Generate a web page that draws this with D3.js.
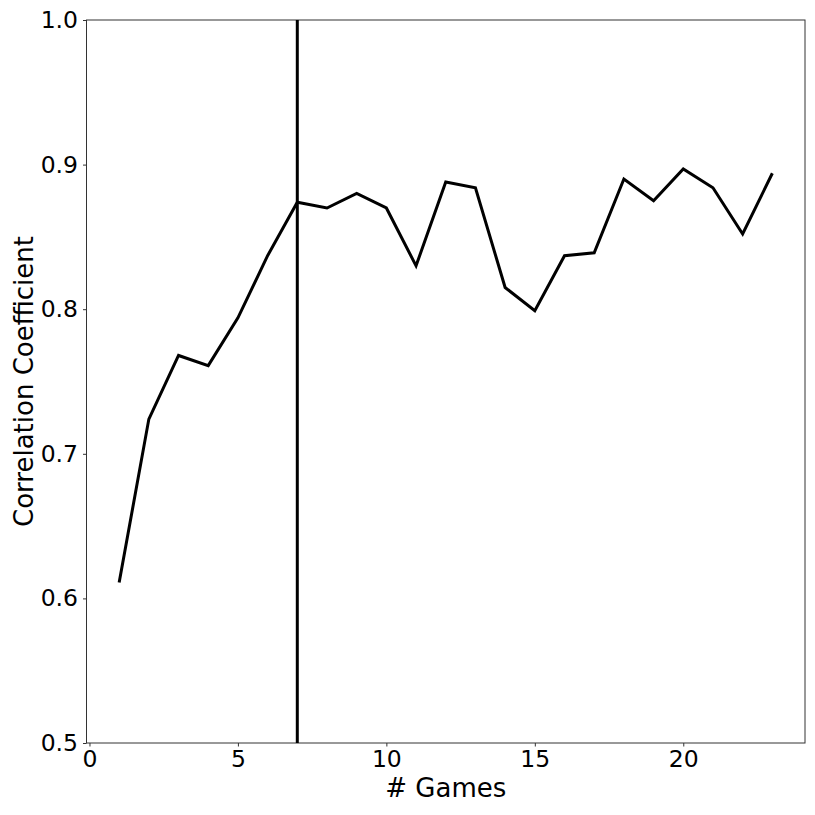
<!DOCTYPE html>
<html>
<head>
<meta charset="utf-8">
<script src="https://cdn.jsdelivr.net/npm/d3@7"></script>
<style>
  body { margin: 0; background: #fff; }
  text { font-family: "DejaVu Sans", sans-serif; fill: #000; }
</style>
</head>
<body>
<div id="chart"></div>
<script>
var games = [1, 2, 3, 4, 5, 6, 7, 8, 9, 10, 11, 12, 13, 14, 15, 16, 17, 18, 19, 20, 21, 22, 23];
var corr = [0.611, 0.724, 0.768, 0.761, 0.794, 0.837, 0.874, 0.870, 0.880, 0.870, 0.830, 0.888,
            0.884, 0.815, 0.799, 0.837, 0.839, 0.890, 0.875, 0.897, 0.884, 0.852, 0.894];
var cutoff = 7;
var xTicks = [0, 5, 10, 15, 20];
var yTicks = [0.5, 0.6, 0.7, 0.8, 0.9, 1.0];

var svgWidth = 815;
var svgHeight = 815;
var margin = { top: 20, right: 10, bottom: 72, left: 86.5 };
var width = 805 - margin.left;
var height = 743 - margin.top;

var svg = d3.select("#chart")
    .append("svg")
    .attr("width", svgWidth)
    .attr("height", svgHeight);

var chartGroup = svg.append("g")
    .attr("transform", `translate(${margin.left}, ${margin.top})`);

var xScale = d3.scaleLinear().domain([-0.1, 24.1]).range([0, width]);
var yScale = d3.scaleLinear().domain([0.5, 1.0]).range([height, 0]);

// axes
var bottomAxis = d3.axisBottom(xScale).tickValues(xTicks).tickSize(3.5).tickPadding(4).tickFormat(d3.format("d"));
var leftAxis = d3.axisLeft(yScale).tickValues(yTicks).tickSize(3.5).tickPadding(5).tickFormat(d3.format(".1f"));

var gx = chartGroup.append("g")
    .attr("transform", `translate(0, ${height})`)
    .call(bottomAxis);
var gy = chartGroup.append("g").call(leftAxis);

[gx, gy].forEach(function (g) {
    g.select(".domain").remove();
    g.selectAll("line").attr("stroke", "#333").attr("stroke-width", 1);
    g.selectAll("text").style("font-size", "23.5px").style("font-family", "DejaVu Sans");
});

// frame
chartGroup.append("rect")
    .attr("x", 0).attr("y", 0)
    .attr("width", width).attr("height", height)
    .attr("fill", "none")
    .attr("stroke", "#333")
    .attr("stroke-width", 1);

// vertical marker
chartGroup.append("line")
    .attr("x1", xScale(cutoff)).attr("x2", xScale(cutoff))
    .attr("y1", 0).attr("y2", height)
    .attr("stroke", "#000")
    .attr("stroke-width", 3);

// line
var line = d3.line()
    .x((d, i) => xScale(games[i]))
    .y(d => yScale(d));

chartGroup.append("path")
    .datum(corr)
    .attr("d", line)
    .attr("fill", "none")
    .attr("stroke", "#000")
    .attr("stroke-width", 3)
    .attr("stroke-linejoin", "miter");

// labels
chartGroup.append("text")
    .attr("x", width / 2)
    .attr("y", height + 54)
    .attr("text-anchor", "middle")
    .style("font-size", "26px")
    .text("# Games");

chartGroup.append("text")
    .attr("transform", `translate(${-margin.left + 33}, ${height / 2}) rotate(-90)`)
    .attr("text-anchor", "middle")
    .style("font-size", "26px")
    .text("Correlation Coefficient");
</script>
</body>
</html>
